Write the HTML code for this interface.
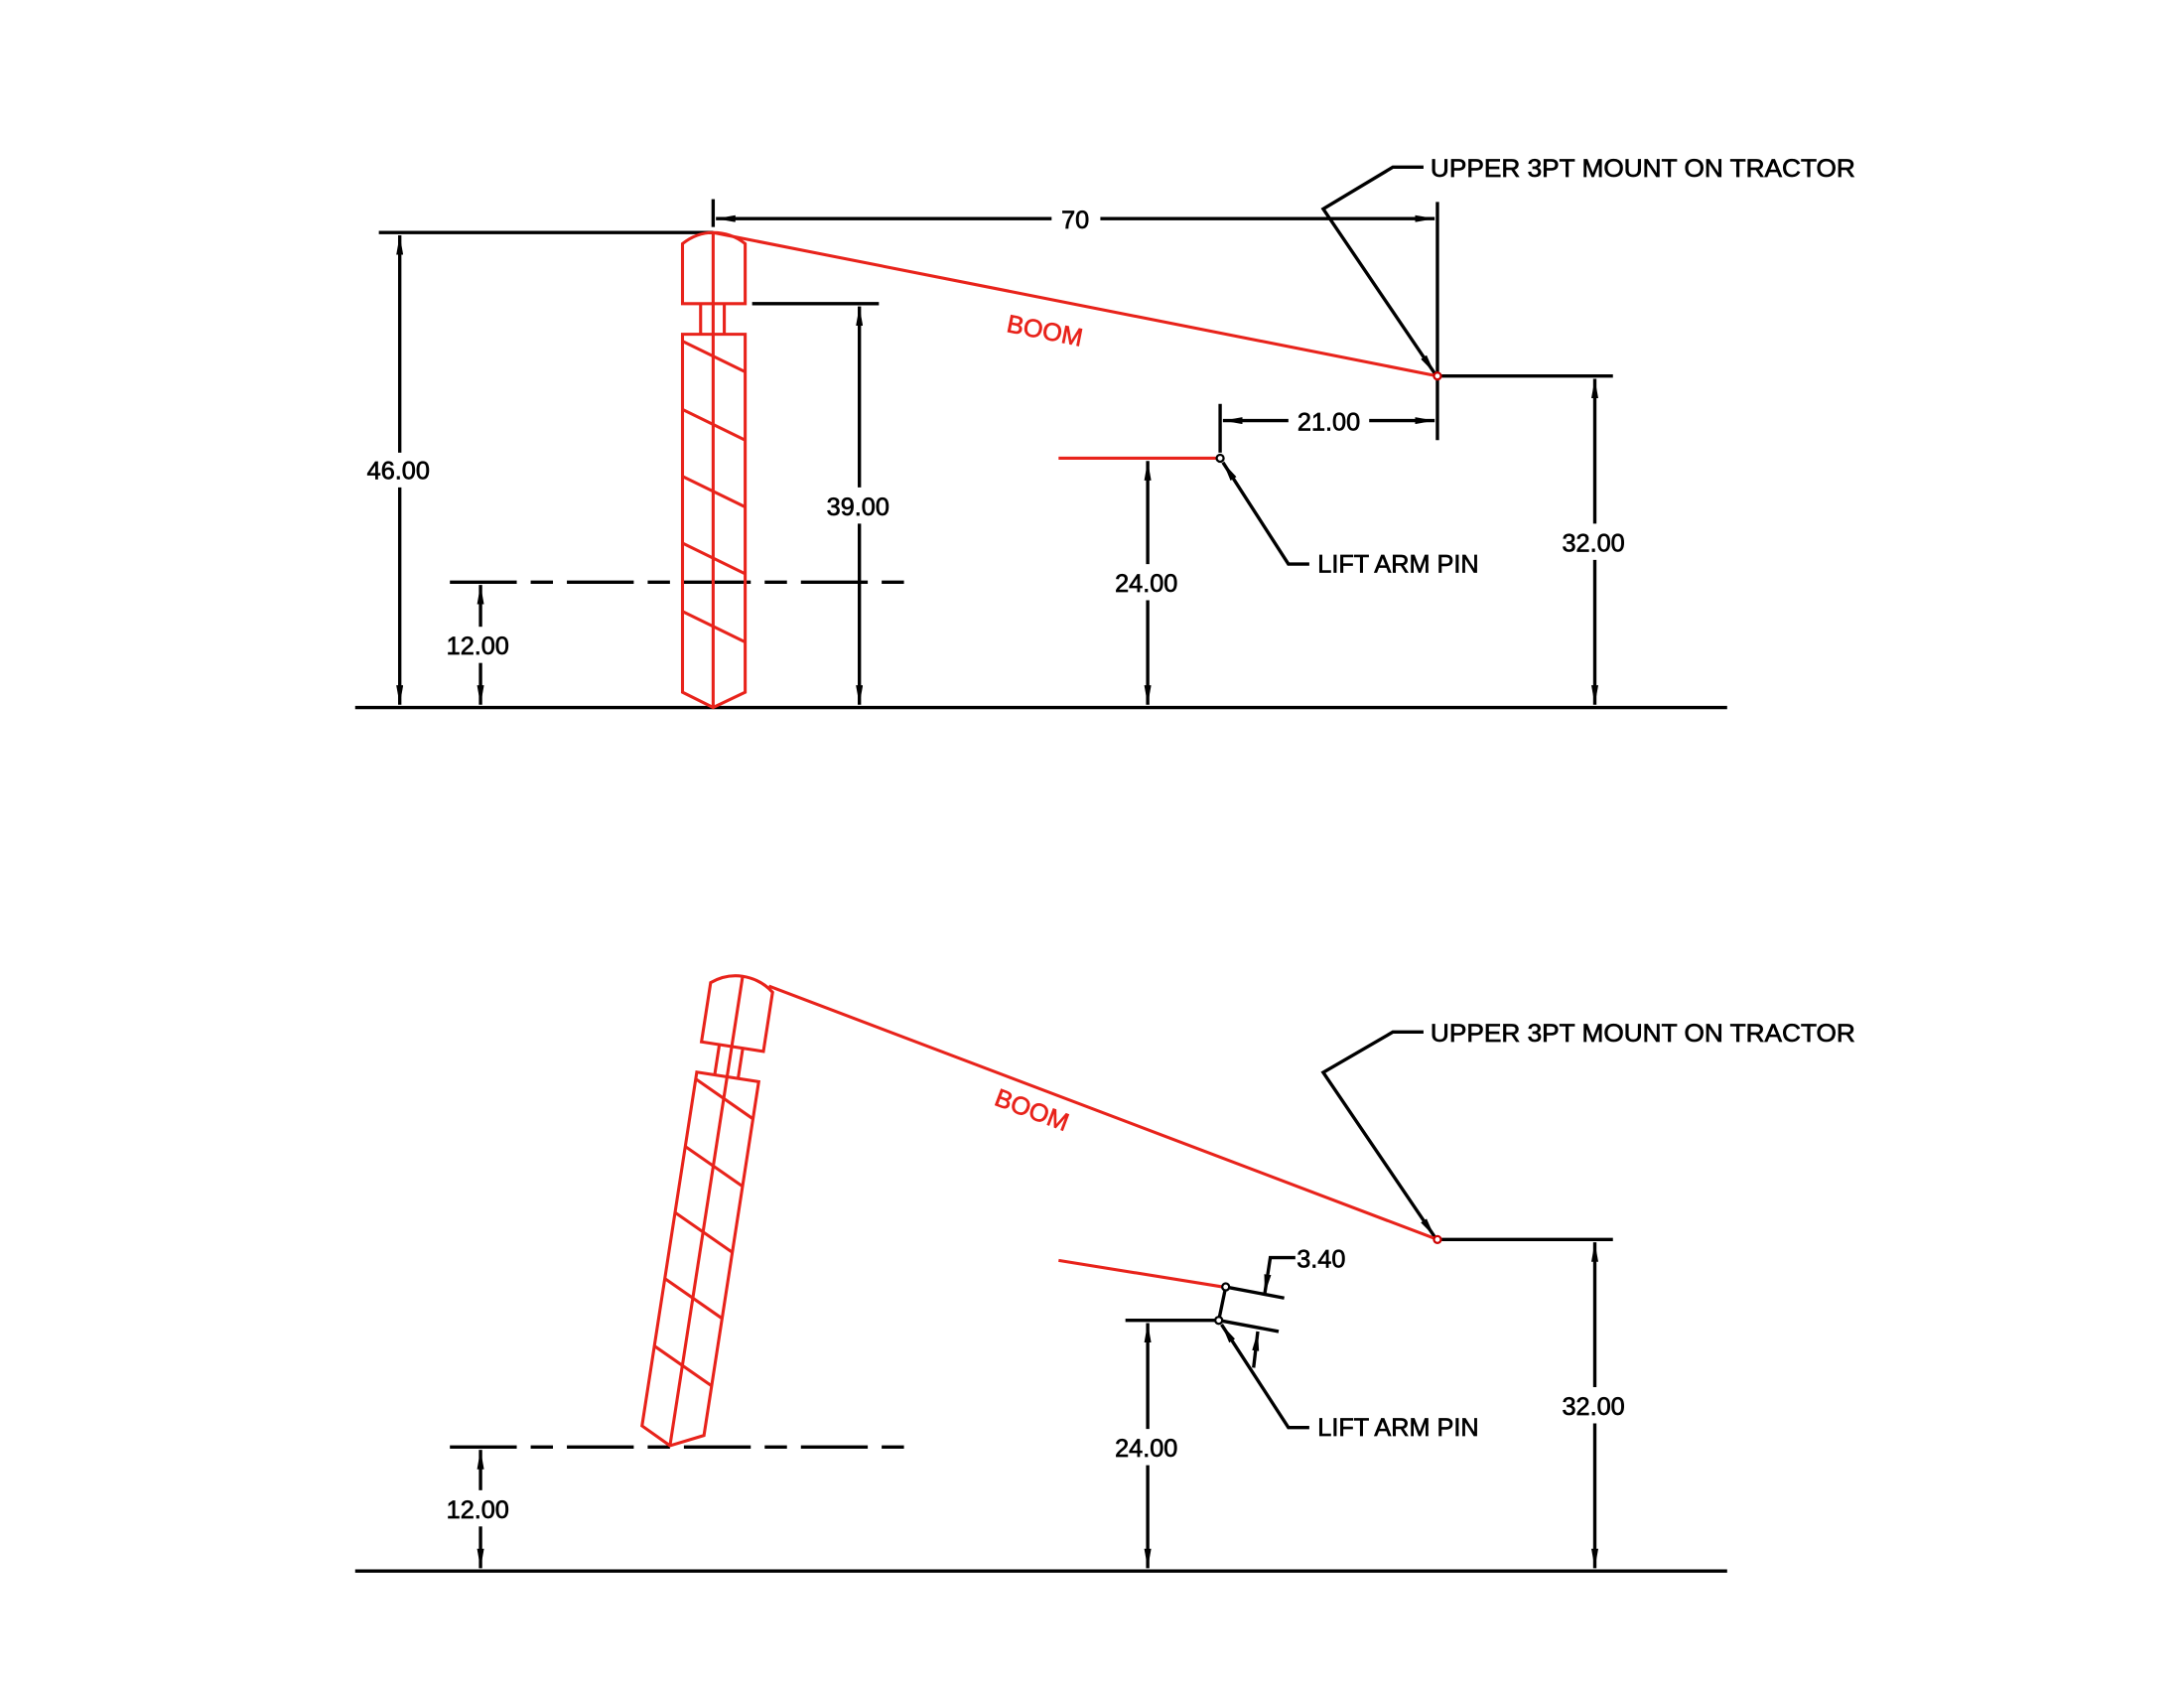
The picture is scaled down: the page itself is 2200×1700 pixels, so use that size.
<!DOCTYPE html>
<html><head><meta charset="utf-8"><style>html,body{margin:0;padding:0;background:#fff}svg{display:block}</style></head>
<body>
<svg width="2200" height="1700" viewBox="0 0 1568 1212" preserveAspectRatio="none" xmlns="http://www.w3.org/2000/svg">
<defs>
<marker id="a" viewBox="0 0 14 5" refX="14" refY="2.5" markerWidth="14" markerHeight="5" markerUnits="userSpaceOnUse" orient="auto-start-reverse"><path d="M0,0 L14,2.5 L0,5 z" fill="#000"/></marker>
<g id="mast" fill="none" stroke="#e8231b" stroke-width="2.2">
<path d="M490,218 L490,175 Q500,167 512,167 Q525,167 535,175 L535,218 Z"/>
<path d="M512,167 L512,508"/>
<path d="M503,218 L503,240 M520,218 L520,240"/>
<path d="M490,240 L535,240 L535,497 L512,508 L490,497 Z"/>
<path d="M490,245 L535,267 M490,294 L535,316 M490,342 L535,364 M490,390 L535,412 M490,439 L535,461"/>
</g>
</defs>
<g fill="none" stroke="#000" stroke-width="2.4">
<line x1="255" y1="508" x2="1240" y2="508"/>
<line x1="272" y1="167" x2="512" y2="167"/>
<line x1="287" y1="169" x2="287" y2="325" marker-start="url(#a)"/>
<line x1="287" y1="350" x2="287" y2="506" marker-end="url(#a)"/>
<line x1="323" y1="418" x2="655" y2="418" stroke-dasharray="48,10,16,10"/>
<line x1="345" y1="420" x2="345" y2="450" marker-start="url(#a)"/>
<line x1="345" y1="476" x2="345" y2="506" marker-end="url(#a)"/>
<line x1="540" y1="218" x2="631" y2="218"/>
<line x1="617" y1="220" x2="617" y2="350" marker-start="url(#a)"/>
<line x1="617" y1="376" x2="617" y2="506" marker-end="url(#a)"/>
<line x1="512" y1="143" x2="512" y2="163"/>
<line x1="1032" y1="145" x2="1032" y2="316"/>
<line x1="514" y1="157" x2="755" y2="157" marker-start="url(#a)"/>
<line x1="790" y1="157" x2="1030" y2="157" marker-end="url(#a)"/>
<line x1="1032" y1="270" x2="1158" y2="270"/>
<line x1="1145" y1="272" x2="1145" y2="376" marker-start="url(#a)"/>
<line x1="1145" y1="402" x2="1145" y2="506" marker-end="url(#a)"/>
<polyline points="1022,120 1000,120 950,150 1030,268" marker-end="url(#a)"/>
<line x1="876" y1="290" x2="876" y2="325"/>
<line x1="878" y1="302" x2="925" y2="302" marker-start="url(#a)"/>
<line x1="983" y1="302" x2="1030" y2="302" marker-end="url(#a)"/>
<line x1="824" y1="331" x2="824" y2="405" marker-start="url(#a)"/>
<line x1="824" y1="431" x2="824" y2="506" marker-end="url(#a)"/>
<polyline points="940,405 925,405 878,332" marker-end="url(#a)"/>
<line x1="255" y1="1128" x2="1240" y2="1128"/>
<line x1="323" y1="1039" x2="655" y2="1039" stroke-dasharray="48,10,16,10"/>
<line x1="345" y1="1041" x2="345" y2="1070" marker-start="url(#a)"/>
<line x1="345" y1="1096" x2="345" y2="1126" marker-end="url(#a)"/>
<line x1="1032" y1="890" x2="1158" y2="890"/>
<line x1="1145" y1="892" x2="1145" y2="996" marker-start="url(#a)"/>
<line x1="1145" y1="1022" x2="1145" y2="1126" marker-end="url(#a)"/>
<polyline points="1022,741 1000,741 950,770 1030,888" marker-end="url(#a)"/>
<line x1="808" y1="948" x2="875" y2="948"/>
<line x1="880" y1="924" x2="875" y2="948"/>
<line x1="880" y1="924" x2="922" y2="932"/>
<line x1="875" y1="948" x2="918" y2="956"/>
<polyline points="930,903 912,903 908,929" marker-end="url(#a)"/>
<line x1="900" y1="982" x2="903" y2="956" marker-end="url(#a)"/>
<line x1="824" y1="950" x2="824" y2="1026" marker-start="url(#a)"/>
<line x1="824" y1="1052" x2="824" y2="1126" marker-end="url(#a)"/>
<polyline points="940,1025 925,1025 877,951" marker-end="url(#a)"/>
</g>
<g stroke="#e8231b" stroke-width="2.2" fill="none">
<line x1="512" y1="167" x2="1032" y2="270"/>
<line x1="760" y1="329" x2="874" y2="329"/>
<line x1="552" y1="708" x2="1032" y2="890"/>
<line x1="760" y1="905" x2="878" y2="924"/>
</g>
<use href="#mast"/>
<use href="#mast" transform="translate(481,1038) rotate(8.8) translate(-512,-508)"/>
<g fill="#fff" stroke="#000" stroke-width="1.6">
<circle cx="1032" cy="270" r="2.5" stroke="#c00"/>
<circle cx="876" cy="329" r="2.5"/>
<circle cx="1032" cy="890" r="2.5" stroke="#c00"/>
<circle cx="880" cy="924" r="2.5"/>
<circle cx="875" cy="948" r="2.5"/>
</g>
<g font-family="Liberation Sans, Arial, sans-serif" font-size="18" fill="#000" stroke="#000" stroke-width="0.5">
<text x="1027" y="127" textLength="305" lengthAdjust="spacingAndGlyphs">UPPER 3PT MOUNT ON TRACTOR</text>
<text x="1027" y="748" textLength="305" lengthAdjust="spacingAndGlyphs">UPPER 3PT MOUNT ON TRACTOR</text>
<text x="946" y="411">LIFT ARM PIN</text>
<text x="946" y="1031">LIFT ARM PIN</text>
<text x="772" y="164" text-anchor="middle">70</text>
<text x="286" y="344" text-anchor="middle">46.00</text>
<text x="343" y="470" text-anchor="middle">12.00</text>
<text x="616" y="370" text-anchor="middle">39.00</text>
<text x="954" y="309" text-anchor="middle">21.00</text>
<text x="823" y="425" text-anchor="middle">24.00</text>
<text x="1144" y="396" text-anchor="middle">32.00</text>
<text x="343" y="1090" text-anchor="middle">12.00</text>
<text x="823" y="1046" text-anchor="middle">24.00</text>
<text x="1144" y="1016" text-anchor="middle">32.00</text>
<text x="931" y="910">3.40</text>
<text x="722" y="238" fill="#e8231b" stroke="#e8231b" transform="rotate(11.2 722 238)">BOOM</text>
<text x="713" y="793" fill="#e8231b" stroke="#e8231b" transform="rotate(20.6 713 793)">BOOM</text>
</g>
</svg>
</body></html>
